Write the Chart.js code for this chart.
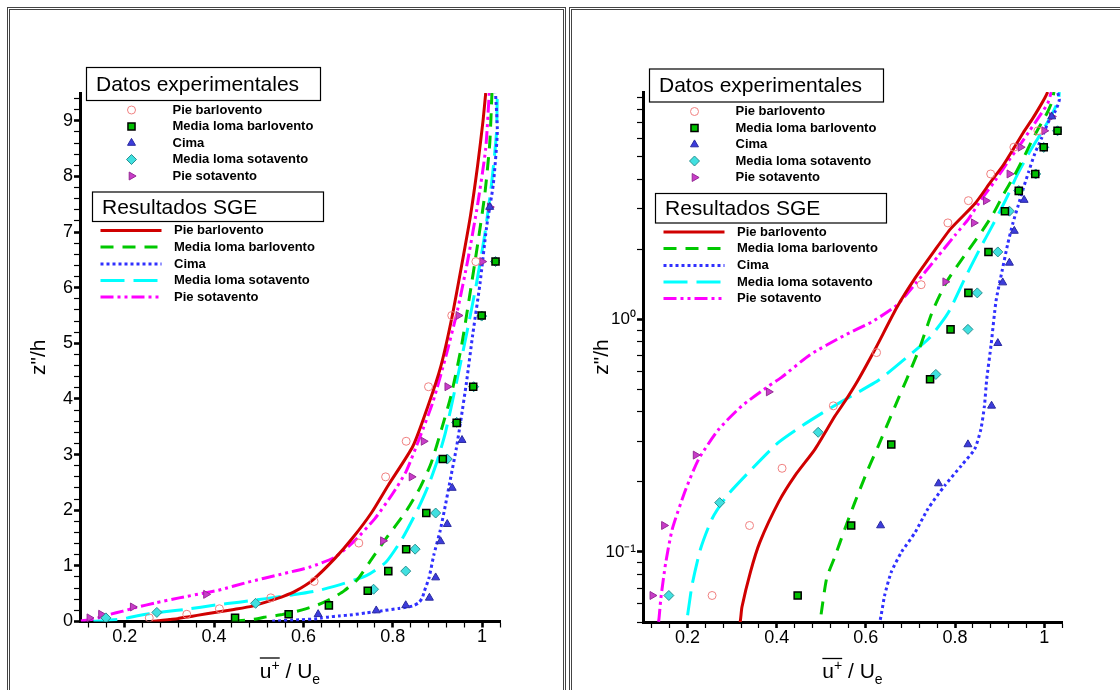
<!DOCTYPE html>
<html>
<head>
<meta charset="utf-8">
<script src="https://cdn.jsdelivr.net/npm/chart.js@4.4.1/dist/chart.umd.min.js"></script>
<style>
  html, body { margin: 0; padding: 0; background: #fff; }
  body { width: 1120px; height: 690px; overflow: hidden; position: relative; }
  .frame { position: absolute; top: 7px; height: 710px; border: 3px double #444; box-sizing: border-box; }
  #frameL { left: 7px; width: 559px; }
  #frameR { left: 569px; width: 570px; }
  canvas { position: absolute; top: 0; }
  #linChart { left: 0; }
  #logChart { left: 566px; }
</style>
</head>
<body>
<div class="frame" id="frameL"></div>
<div class="frame" id="frameR"></div>
<canvas id="linChart" width="566" height="690"></canvas>
<canvas id="logChart" width="554" height="690"></canvas>
<script>
// Perfiles de velocidad media u+/Ue frente a z''/h sobre la loma.
// Panel izquierdo: eje z lineal. Panel derecho: eje z logaritmico.
// Los mismos datos se dibujan en los dos paneles.

const seriesNames = ['Pie barlovento', 'Media loma barlovento', 'Cima', 'Media loma sotavento', 'Pie sotavento'];

// Datos experimentales: [u+/Ue, z''/h]
const expPieBarlovento = [[0.255,0.065],[0.339,0.13],[0.412,0.229],[0.527,0.425],[0.624,0.72],[0.724,1.41],
  [0.784,2.6],[0.83,3.24],[0.88,4.22],[0.932,5.5],[0.986,6.47]];
const expMediaLomaBarlovento = [[0.447,0.065],[0.567,0.13],[0.657,0.29],[0.744,0.553],[0.79,0.906],[0.83,1.3],
  [0.875,1.95],[0.912,2.92],[0.943,3.57],[0.98,4.22],[0.999,5.5],[1.03,6.47]];
const expCima = [[0.633,0.13],[0.763,0.197],[0.829,0.29],[0.882,0.425],[0.896,0.79],[0.907,1.44],
  [0.922,1.75],[0.933,2.4],[0.955,3.26],[1.017,7.45]];
const expMediaLomaSotavento = [[0.158,0.065],[0.272,0.163],[0.493,0.327],[0.757,0.58],[0.829,0.906],[0.85,1.3],
  [0.896,1.95],[0.922,2.92],[0.943,3.58],[0.981,4.22],[0.999,5.49],[1.03,6.47]];
const expPieSotavento = [[0.121,0.065],[0.147,0.13],[0.218,0.261],[0.382,0.488],[0.778,1.45],[0.842,2.6],
  [0.869,3.24],[0.922,4.22],[0.947,5.5],[1.0,6.47],[1.017,7.45]];

// Resultados SGE: [u+/Ue, z''/h]
const sgePieBarlovento = [[0.26,0.004],[0.275,0.012],[0.30,0.035],[0.318,0.05],[0.322,0.058],[0.341,0.082],
  [0.362,0.11],[0.405,0.165],[0.441,0.213],[0.486,0.277],[0.531,0.385],[0.555,0.45],[0.583,0.55],[0.62,0.74],
  [0.67,1.13],[0.71,1.5],[0.752,1.95],[0.79,2.45],[0.845,3.15],[0.88,3.9],[0.908,4.6],[0.932,5.45],
  [0.953,6.35],[0.974,7.3],[0.99,8.2],[1.002,9.0],[1.008,9.5]];
const sgeMediaLomaBarlovento = [[0.44,0.005],[0.47,0.025],[0.497,0.05],[0.512,0.077],[0.531,0.096],[0.553,0.126],
  [0.575,0.163],[0.605,0.227],[0.628,0.286],[0.65,0.36],[0.672,0.453],[0.691,0.55],[0.721,0.757],[0.75,1.09],
  [0.782,1.46],[0.828,1.96],[0.862,2.42],[0.886,2.85],[0.91,3.48],[0.931,4.08],[0.954,4.96],[0.972,5.85],
  [0.99,6.78],[1.006,7.68],[1.017,8.59],[1.022,9.5]];
const sgeCima = [[0.53,0.005],[0.59,0.03],[0.631,0.05],[0.642,0.065],[0.657,0.082],[0.68,0.1],[0.71,0.121],
  [0.739,0.153],[0.777,0.193],[0.814,0.235],[0.844,0.277],[0.858,0.337],[0.866,0.425],[0.871,0.55],[0.881,0.78],
  [0.892,1.2],[0.906,1.63],[0.918,2.1],[0.93,2.6],[0.942,3.1],[0.952,3.6],[0.965,4.3],[0.979,5.16],
  [0.995,6.06],[1.01,7.09],[1.025,7.86],[1.034,8.8],[1.03,9.5]];
const sgeMediaLomaSotavento = [[0.13,0.004],[0.15,0.012],[0.175,0.03],[0.199,0.052],[0.21,0.072],[0.229,0.103],
  [0.255,0.139],[0.289,0.175],[0.337,0.22],[0.404,0.296],[0.456,0.348],[0.516,0.411],[0.575,0.477],[0.63,0.55],
  [0.691,0.685],[0.743,0.834],[0.785,1.07],[0.822,1.5],[0.858,2.05],[0.88,2.45],[0.9,2.9],[0.918,3.4],
  [0.94,4.2],[0.965,5.16],[0.987,6.06],[1.006,6.96],[1.021,7.86],[1.032,8.77],[1.034,9.5]];
const sgePieSotavento = [[0.102,0.008],[0.115,0.025],[0.128,0.04],[0.136,0.052],[0.14,0.063],[0.151,0.09],
  [0.166,0.126],[0.196,0.186],[0.225,0.251],[0.27,0.337],[0.322,0.425],[0.382,0.517],[0.41,0.562],[0.475,0.705],
  [0.55,0.85],[0.615,0.98],[0.669,1.15],[0.712,1.43],[0.76,1.85],[0.8,2.3],[0.83,2.7],[0.86,3.3],
  [0.89,3.95],[0.92,4.8],[0.945,5.6],[0.968,6.5],[0.99,7.5],[1.008,8.5],[1.016,9.5]];

const expSeries = [expPieBarlovento, expMediaLomaBarlovento, expCima, expMediaLomaSotavento, expPieSotavento];
const sgeSeries = [sgePieBarlovento, sgeMediaLomaBarlovento, sgeCima, sgeMediaLomaSotavento, sgePieSotavento];

// Etiquetas de los ejes
const xTickLabels = [0.2, 0.4, 0.6, 0.8, 1];
const linTickLabels = [0, 1, 2, 3, 4, 5, 6, 7, 8, 9];
const logTickLabels = [0.1, 1];
const legendTitles = ['Datos experimentales', 'Resultados SGE'];

const expStyles = [
  { pointStyle: 'circle',   radius: 4,   fill: 'rgba(0,0,0,0)', stroke: '#f08080', lw: 1 },
  { pointStyle: 'rect',     radius: 5,   fill: '#00c000', stroke: '#000',    lw: 1.5 },
  { pointStyle: 'triangle', radius: 4.6, fill: '#3c3cdc', stroke: '#2a2aa0', lw: 1 },
  { pointStyle: 'rectRot',  radius: 5,   fill: '#40e0e0', stroke: '#2a9090', lw: 1 },
  { pointStyle: 'triangle', radius: 4.6, fill: '#c83cc8', stroke: '#962a96', lw: 1, rotation: 90 }
];
const sgeStyles = [
  { color: '#d00000', dash: [] },
  { color: '#00c800', dash: [13, 9] },
  { color: '#3030ff', dash: [3, 3] },
  { color: '#00ffff', dash: [24, 9] },
  { color: '#ff00ff', dash: [13, 4, 3, 4, 3, 4] }
];

// Cajas de leyenda (x relativo al eje vertical, y absoluto en el lienzo)
const legendLayout = {
  box1: { x: 6.5, y: 67.5, w: 234, h: 33 },
  expRows: [110, 126.5, 143, 159.5, 176], markerX: 51.5, labelX: 92.5,
  box2: { x: 12.5, y: 192, w: 231, h: 29.5 },
  lineRows: [230.5, 247, 264, 280.5, 297], lineX0: 20.5, lineX1: 81.5, lineLabelX: 94
};

Chart.defaults.font.family = "'Liberation Sans', Arial, sans-serif";

function buildDatasets() {
  const ds = [];
  expSeries.forEach((pts, i) => {
    const s = expStyles[i];
    ds.push({
      label: seriesNames[i], data: pts.map(p => ({ x: p[0], y: p[1] })), showLine: false,
      pointStyle: s.pointStyle, pointRotation: s.rotation || 0, pointRadius: s.radius,
      pointBackgroundColor: s.fill, pointBorderColor: s.stroke, pointBorderWidth: s.lw, order: 1
    });
  });
  sgeSeries.forEach((pts, i) => {
    const s = sgeStyles[i];
    ds.push({
      label: seriesNames[i], data: pts.map(p => ({ x: p[0], y: p[1] })), showLine: true,
      pointRadius: 0, borderColor: s.color, borderWidth: 3, borderDash: s.dash,
      borderCapStyle: 'butt', tension: 0.2, order: 2
    });
  });
  return ds;
}

const near = (v, list) => list.find(t => Math.abs(t - v) < 1e-6);
const round = v => Math.round(v * 1e6) / 1e6;

function tickStyle(extraTicks) {
  return {
    bounds: 'data',
    grid: {
      display: true, drawOnChartArea: false, drawTicks: true, tickLength: 6, tickColor: '#000',
      tickWidth: c => (c.tick && c.tick.major ? 2.6 : 1.2)
    },
    border: { display: true, color: '#000', width: 3 },
    ticks: Object.assign({ autoSkip: false, maxRotation: 0, minRotation: 0, color: '#000', padding: 0,
                           font: { size: 18 } }, extraTicks)
  };
}

function xAxis(h) {
  return Object.assign(tickStyle({
    padding: -1,
    callback: v => { const t = near(v, xTickLabels); return t === undefined ? '' : String(t); }
  }), {
    type: 'linear', min: 0.1, max: 1.04,
    afterFit: s => { s.height = h; },
    afterBuildTicks: s => {
      const ticks = [];
      for (let k = 3; k <= 26; k++) {
        const v = round(k * 0.04);
        ticks.push({ value: v, major: near(v, xTickLabels) !== undefined });
      }
      s.ticks = ticks;
    }
  });
}

function linYAxis(w) {
  return Object.assign(tickStyle({
    padding: 1,
    callback: v => { const t = near(v, linTickLabels); return t === undefined ? '' : String(t); }
  }), {
    type: 'linear', min: 0, max: 9.5,
    afterFit: s => { s.width = w; },
    afterBuildTicks: s => {
      const ticks = [];
      for (let k = 0; k <= 47; k++) {
        const v = round(k * 0.2);
        ticks.push({ value: v, major: near(v, linTickLabels) !== undefined });
      }
      s.ticks = ticks;
    }
  });
}

const SUP = { '0': '\u2070', '1': '\u00b9', '-': '\u207b' };
function logYAxis(w) {
  return Object.assign(tickStyle({
    padding: 1, font: { size: 17 },
    callback: v => {
      const t = near(v, logTickLabels);
      if (t === undefined) return '';
      return '10' + String(Math.round(Math.log10(t))).split('').map(c => SUP[c]).join('');
    }
  }), {
    type: 'logarithmic', min: 0.05, max: 9.5,
    afterFit: s => { s.width = w; },
    afterBuildTicks: s => {
      const ticks = [];
      for (let n = -2; n <= 0; n++) {
        for (let m = 1; m <= 9; m++) {
          const v = round(m * Math.pow(10, n));
          if (v >= 0.05 && v <= 9.5) ticks.push({ value: v, major: near(v, logTickLabels) !== undefined });
        }
      }
      s.ticks = ticks;
    }
  });
}

function drawMarker(ctx, d, x, y) {
  const r = d.pointRadius;
  let rad = (d.pointRotation || 0) * Math.PI / 180;
  ctx.beginPath();
  if (d.pointStyle === 'circle') {
    ctx.arc(x, y, r, 0, Math.PI * 2);
  } else if (d.pointStyle === 'rect') {
    const h = r * Math.SQRT1_2;
    ctx.rect(x - h, y - h, 2 * h, 2 * h);
  } else if (d.pointStyle === 'rectRot') {
    ctx.moveTo(x - r, y); ctx.lineTo(x, y - r); ctx.lineTo(x + r, y); ctx.lineTo(x, y + r); ctx.closePath();
  } else {
    for (let k = 0; k < 3; k++) {
      const px = x + Math.sin(rad) * r, py = y - Math.cos(rad) * r;
      if (k === 0) ctx.moveTo(px, py); else ctx.lineTo(px, py);
      rad += Math.PI * 2 / 3;
    }
    ctx.closePath();
  }
  ctx.fillStyle = d.pointBackgroundColor; ctx.fill();
  ctx.lineWidth = d.pointBorderWidth; ctx.strokeStyle = d.pointBorderColor; ctx.stroke();
}

function drawBox(ctx, x, y, w, h, text) {
  ctx.fillStyle = '#fff';
  ctx.fillRect(x, y, w, h);
  ctx.lineWidth = 1.2; ctx.strokeStyle = '#000'; ctx.setLineDash([]);
  ctx.strokeRect(x, y, w, h);
  ctx.fillStyle = '#000';
  ctx.font = "21px 'Liberation Sans', Arial, sans-serif";
  ctx.textAlign = 'left'; ctx.textBaseline = 'middle';
  ctx.fillText(text, x + 9.5, y + h / 2 + 1);
}

function drawLegends(chart, dy) {
  const ctx = chart.ctx, g = legendLayout, ox = chart.chartArea.left;
  const sets = chart.data.datasets;
  drawBox(ctx, ox + g.box1.x, g.box1.y + dy, g.box1.w, g.box1.h, legendTitles[0]);
  sets.filter(d => !d.showLine).forEach((d, i) => {
    drawMarker(ctx, d, ox + g.markerX, g.expRows[i] + dy);
    ctx.fillStyle = '#000'; ctx.font = "bold 13px 'Liberation Sans', Arial, sans-serif";
    ctx.textAlign = 'left'; ctx.textBaseline = 'middle';
    ctx.fillText(d.label, ox + g.labelX, g.expRows[i] + dy);
  });
  drawBox(ctx, ox + g.box2.x, g.box2.y + dy, g.box2.w, g.box2.h, legendTitles[1]);
  sets.filter(d => d.showLine).forEach((d, i) => {
    const y = g.lineRows[i] + dy;
    ctx.beginPath();
    ctx.setLineDash(d.borderDash); ctx.lineCap = 'butt';
    ctx.lineWidth = d.borderWidth; ctx.strokeStyle = d.borderColor;
    ctx.moveTo(ox + g.lineX0, y); ctx.lineTo(ox + g.lineX1, y); ctx.stroke();
    ctx.setLineDash([]);
    ctx.fillStyle = '#000'; ctx.font = "bold 13px 'Liberation Sans', Arial, sans-serif";
    ctx.textAlign = 'left'; ctx.textBaseline = 'middle';
    ctx.fillText(d.label, ox + g.lineLabelX, y);
  });
}

function drawAxisTitles(chart) {
  const ctx = chart.ctx, a = chart.chartArea;
  ctx.fillStyle = '#000'; ctx.strokeStyle = '#000';
  // eje vertical
  ctx.save();
  ctx.translate(a.left - 41, (a.top + a.bottom) / 2);
  ctx.rotate(-Math.PI / 2);
  ctx.font = "21px 'Liberation Sans', Arial, sans-serif";
  ctx.textAlign = 'center'; ctx.textBaseline = 'middle';
  ctx.fillText('z"/h', 0, 0);
  ctx.restore();
  // eje horizontal: u+ con barra / U sub e
  const big = "21px 'Liberation Sans', Arial, sans-serif", small = "14px 'Liberation Sans', Arial, sans-serif";
  const parts = [['u', big, 0], ['+', small, -8], [' / U', big, 0], ['e', small, 6]];
  let w = 0;
  parts.forEach(p => { ctx.font = p[1]; p.push(ctx.measureText(p[0]).width); w += p[3]; });
  let x = (a.left + a.right) / 2 - w / 2;
  const x0 = x, base = a.bottom + 56;
  let barEnd = x;
  ctx.textAlign = 'left'; ctx.textBaseline = 'alphabetic';
  parts.forEach((p, i) => {
    ctx.font = p[1];
    ctx.fillText(p[0], x, base + p[2]);
    x += p[3];
    if (i === 1) barEnd = x;
  });
  ctx.beginPath(); ctx.setLineDash([]); ctx.lineWidth = 1.3;
  ctx.moveTo(x0, base - 19.5); ctx.lineTo(barEnd, base - 19.5); ctx.stroke();
}

const panelDecor = {
  id: 'panelDecor',
  afterDraw(chart, args, opts) {
    chart.ctx.save();
    drawAxisTitles(chart);
    drawLegends(chart, opts.dy || 0);
    chart.ctx.restore();
  }
};

// El area de dibujo se fija con el padding y el tamano de los ejes
function makePanel(canvasId, yScale, xH, pad, dy) {
  return new Chart(document.getElementById(canvasId), {
    type: 'scatter',
    data: { datasets: buildDatasets() },
    options: {
      responsive: false, animation: false, devicePixelRatio: 1, events: [],
      layout: { padding: pad },
      plugins: { legend: { display: false }, tooltip: { enabled: false }, panelDecor: { dy } },
      scales: { x: xAxis(xH), y: yScale }
    },
    plugins: [panelDecor]
  });
}

makePanel('linChart', linYAxis(80), 68.5, { left: 0, top: 93, right: 66, bottom: 0 }, 0);
makePanel('logChart', logYAxis(77), 68, { left: 0, top: 92, right: 58, bottom: 0 }, 1.5);
</script>
</body>
</html>
